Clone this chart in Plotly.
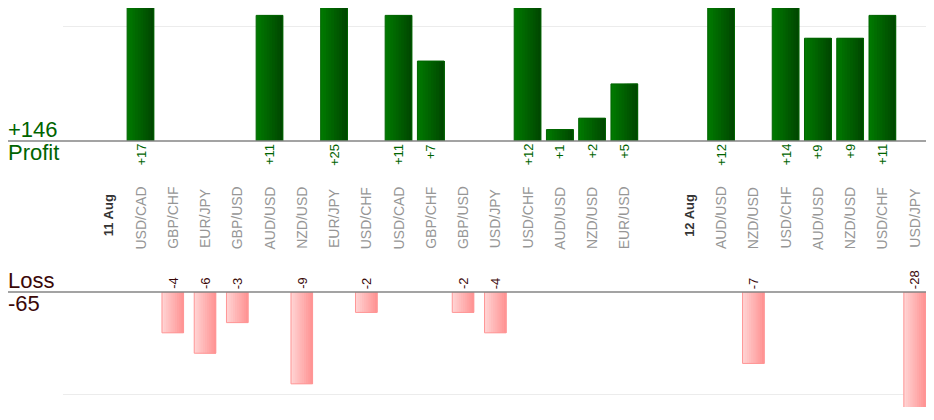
import plotly.graph_objects as go

# one slot per column; dates are day separators, "" is an empty gap column
slot_labels = ["11 Aug", "USD/CAD", "GBP/CHF", "EUR/JPY", "GBP/USD", "AUD/USD", "NZD/USD",
               "EUR/JPY", "USD/CHF", "USD/CAD", "GBP/CHF", "GBP/USD", "USD/JPY", "USD/CHF",
               "AUD/USD", "NZD/USD", "EUR/USD", "", "12 Aug", "AUD/USD", "NZD/USD", "USD/CHF",
               "AUD/USD", "NZD/USD", "USD/CHF", "USD/JPY"]
date_labels = ["11 Aug", "12 Aug"]

profit = [None, 17, None, None, None, 11, None, 25, None, 11, 7, None, None, 12,
          1, 2, 5, None, None, 12, None, 14, 9, 9, 11, None]
loss = [None, None, -4, -6, -3, None, -9, None, -2, None, None, -2, -4, None,
        None, None, None, None, None, None, -7, None, None, None, None, -28]

total_profit = "+146"
total_loss = "-65"

FONT = "Liberation Sans, Arial, sans-serif"
GREEN_TXT = "#006400"
LOSS_TXT = "#3a0808"

# the page body adds an 8px margin, so the figure is 8px smaller than the window
W, H = 926, 412
ml, mb = 55, 13
plot_h = H - mb
zero_top = 133      # px from figure top
zero_bot = 284
top_dom = [(plot_h - zero_top) / plot_h, 1.0]
bot_dom = [0.0, (plot_h - zero_bot) / plot_h]
left_px = -ml / (W - ml)

px = [i for i, v in enumerate(profit) if v is not None]
py = [v for v in profit if v is not None]
lx = [i for i, v in enumerate(loss) if v is not None]
ly = [v for v in loss if v is not None]


def mix(c1, c2, t):
    return "rgb(%d,%d,%d)" % tuple(round(a + (b - a) * t) for a, b in zip(c1, c2))


# horizontal gradient: stacked slices, each one running to the right edge
def gradient_bars(fig, xs, ys, width, c_left, c_right, edge, yaxis, n=10):
    step = width / n
    for i in range(n):
        fig.add_trace(go.Bar(
            x=xs, y=ys, yaxis=yaxis, width=width - i * step,
            offset=-width / 2 + i * step,
            marker=dict(color=mix(c_left, c_right, i / (n - 1)), line_width=0),
            showlegend=False, hoverinfo="skip"))
    fig.add_trace(go.Bar(
        x=xs, y=ys, yaxis=yaxis, width=width, offset=-width / 2,
        marker=dict(color="rgba(0,0,0,0)", line=dict(color=edge, width=1)),
        showlegend=False, hovertemplate="%{y}<extra></extra>"))


fig = go.Figure()
gradient_bars(fig, px, py, 0.83, (0, 120, 0), (0, 72, 0), "rgb(0,100,0)", "y")
gradient_bars(fig, lx, ly, 0.67, (255, 210, 210), (255, 148, 148), "rgb(255,150,150)", "y2")

ann = []
# pair / date labels between the panels
for i, lab in enumerate(slot_labels):
    if not lab:
        continue
    if lab in date_labels:
        ann.append(dict(x=i, xref="x", y=(plot_h - 207) / plot_h, yref="paper",
                        text="<b>%s</b>" % lab, textangle=-90, showarrow=False,
                        font=dict(family=FONT, size=13, color="#333333")))
    else:
        ann.append(dict(x=i, xref="x", y=(plot_h - 210) / plot_h, yref="paper",
                        text=lab, textangle=-90, showarrow=False,
                        font=dict(family=FONT, size=14, color="#969696")))

# values under / over the zero lines
for x, v in zip(px, py):
    ann.append(dict(x=x, xref="x", y=0, yref="y", yanchor="top", yshift=-1,
                    text="+%d" % v, textangle=-90, showarrow=False,
                    font=dict(family=FONT, size=13, color=GREEN_TXT)))
for x, v in zip(lx, ly):
    ann.append(dict(x=x, xref="x", y=0, yref="y2", yanchor="bottom", yshift=1,
                    text="%d" % v, textangle=-90, showarrow=False,
                    font=dict(family=FONT, size=13, color=LOSS_TXT)))

# totals on the left
for txt, yref, anchor, col, ys in [(total_profit, "y", "bottom", GREEN_TXT, -3),
                                   ("Profit", "y", "top", GREEN_TXT, 3),
                                   ("Loss", "y2", "bottom", LOSS_TXT, -3),
                                   (total_loss, "y2", "top", LOSS_TXT, 3)]:
    ann.append(dict(x=left_px, xref="paper", xanchor="left", xshift=-2, y=0, yref=yref,
                    yanchor=anchor, yshift=ys, text=txt, showarrow=False,
                    font=dict(family=FONT, size=22, color=col)))

shapes = [dict(type="line", xref="paper", yref="paper", x0=left_px, x1=1,
               y0=top_dom[0], y1=top_dom[0], line=dict(color="#858585", width=1.5)),
          dict(type="line", xref="paper", yref="paper", x0=left_px, x1=1,
               y0=bot_dom[1], y1=bot_dom[1], line=dict(color="#858585", width=1.5))]

fig.update_layout(
    width=W, height=H, margin=dict(l=ml, r=0, t=0, b=mb),
    paper_bgcolor="white", plot_bgcolor="white", barmode="overlay",
    xaxis=dict(range=[-1.403, 25.6], showgrid=False, zeroline=False,
               showticklabels=False, ticks="", fixedrange=True),
    yaxis=dict(domain=top_dom, range=[0, zero_top / 11.42], dtick=10, showgrid=True,
               gridcolor="#ececec", zeroline=False, showticklabels=False),
    yaxis2=dict(domain=bot_dom, range=[-11.27, 0], dtick=10, showgrid=True,
                gridcolor="#ececec", zeroline=False, showticklabels=False),
    annotations=ann, shapes=shapes, showlegend=False,
)

fig.write_html("out.html")
